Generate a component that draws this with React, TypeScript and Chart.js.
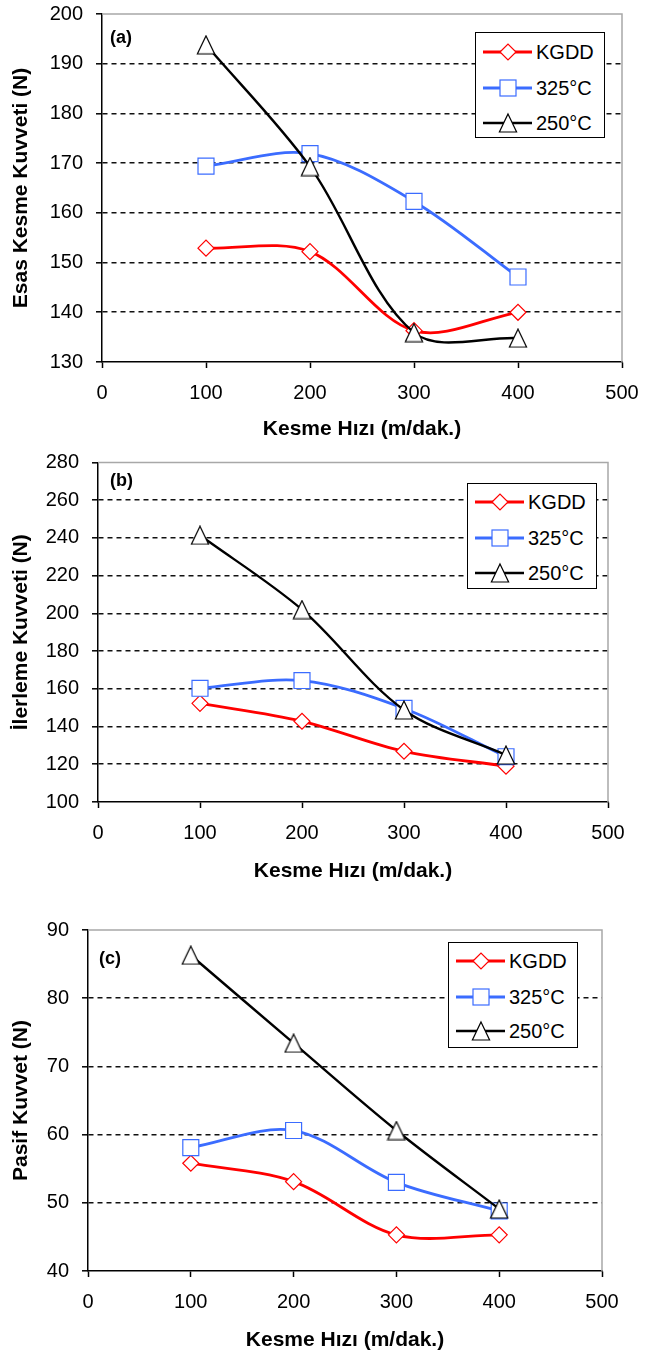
import React, { useEffect, useRef } from "react";
import { Chart, registerables } from "chart.js";

Chart.register(...registerables);

// ---------- data ----------
const speeds = [100, 200, 300, 400];
const seriesNames = ["KGDD", "325°C", "250°C"];
const xTicks = [0, 100, 200, 300, 400, 500];
const xTitle = "Kesme Hızı (m/dak.)";

const esasTitle = "Esas Kesme Kuvveti (N)";
const esasTicks = [130, 140, 150, 160, 170, 180, 190, 200];
const esasKGDD = [152.9, 152.2, 136.3, 140.0];
const esas325 = [169.4, 171.9, 162.3, 147.1];
const esas250 = [193.8, 169.3, 135.9, 134.8];

const ilerTitle = "İlerleme Kuvveti (N)";
const ilerTicks = [100, 120, 140, 160, 180, 200, 220, 240, 260, 280];
const ilerKGDD = [152.3, 142.8, 126.9, 119.0];
const iler325 = [160.3, 164.4, 149.6, 124.0];
const iler250 = [241.4, 202.0, 148.8, 124.9];

const pasifTitle = "Pasif Kuvvet (N)";
const pasifTicks = [40, 50, 60, 70, 80, 90];
const pasifKGDD = [55.8, 53.1, 45.3, 45.3];
const pasif325 = [58.1, 60.6, 53.0, 48.8];
const pasif250 = [86.3, 73.4, 60.6, 49.1];

// ---------- styles ----------
const FONT = "'Liberation Sans', Arial, sans-serif";
const colors = ["#ff0000", "#3b6cff", "#000000"];
const lineWidths = [2.8, 2.8, 2.4];
const pointRadii = [8, 11.3, 10];

function makeTriangle(): HTMLCanvasElement {
  const c = document.createElement("canvas");
  c.width = 20;
  c.height = 20;
  const g = c.getContext("2d")!;
  g.fillStyle = "#fff";
  g.strokeStyle = "#000";
  g.lineWidth = 1.2;
  g.beginPath();
  g.moveTo(10, 1);
  g.lineTo(18.6, 19);
  g.lineTo(1.4, 19);
  g.closePath();
  g.fill();
  g.stroke();
  return c;
}

const framePlugin = {
  id: "frame",
  beforeDatasetsDraw(chart: any) {
    const { ctx, chartArea: a } = chart;
    ctx.save();
    ctx.strokeStyle = "#a8a8a8";
    ctx.lineWidth = 1.5;
    ctx.beginPath();
    ctx.moveTo(a.left, a.top);
    ctx.lineTo(a.right, a.top);
    ctx.lineTo(a.right, a.bottom);
    ctx.stroke();
    ctx.restore();
  },
};

type Cfg = {
  top: number;
  height: number;
  padTop: number;
  padRight: number;
  yWidth: number;
  xHeight: number;
  xTitlePad: number;
  yTitle: string;
  yTicks: number[];
  series: number[][];
};

function ForceChart({ cfg }: { cfg: Cfg }) {
  const ref = useRef<HTMLCanvasElement>(null);
  useEffect(() => {
    const canvas = ref.current!;
    const yMin = cfg.yTicks[0];
    const yMax = cfg.yTicks[cfg.yTicks.length - 1];
    const styles: any[] = ["rectRot", "rect", makeTriangle()];
    const chart = new Chart(canvas, {
      type: "line",
      data: {
        datasets: seriesNames.map((name, i) => ({
          label: name,
          data: speeds.map((x, j) => ({ x, y: cfg.series[i][j] })),
          borderColor: colors[i],
          borderWidth: lineWidths[i],
          pointStyle: styles[i],
          pointRadius: pointRadii[i],
          pointBackgroundColor: "#ffffff",
          pointBorderColor: colors[i],
          pointBorderWidth: 1.2,
          tension: 0.33,
          fill: false,
          order: 3 - i,
        })),
      },
      options: {
        responsive: false,
        maintainAspectRatio: false,
        animation: false,
        events: [],
        layout: { padding: { left: 0, top: cfg.padTop, right: cfg.padRight, bottom: 0 } },
        plugins: { legend: { display: false }, tooltip: { enabled: false } },
        scales: {
          x: {
            type: "linear",
            min: 0,
            max: 500,
            afterBuildTicks: (s: any) => {
              s.ticks = xTicks.map((v) => ({ value: v }));
            },
            afterFit: (s: any) => {
              s.height = cfg.xHeight;
              s.paddingLeft = 0;
              s.paddingRight = 0;
            },
            grid: {
              drawOnChartArea: false,
              drawTicks: true,
              tickLength: 6,
              tickColor: "#000",
              tickWidth: 1.5,
            },
            border: { color: "#000", width: 1.5 },
            ticks: {
              color: "#000",
              font: { family: FONT, size: 20 },
              padding: 13,
              maxRotation: 0,
              autoSkip: false,
            },
            title: {
              display: true,
              text: xTitle,
              color: "#000",
              font: { family: FONT, size: 21, weight: "bold" },
              padding: { top: 0, bottom: cfg.xTitlePad },
            },
          },
          y: {
            type: "linear",
            min: yMin,
            max: yMax,
            afterBuildTicks: (s: any) => {
              s.ticks = cfg.yTicks.map((v) => ({ value: v }));
            },
            afterFit: (s: any) => {
              s.width = cfg.yWidth;
              s.paddingTop = 0;
              s.paddingBottom = 0;
            },
            grid: {
              drawOnChartArea: true,
              drawTicks: true,
              tickLength: 6,
              tickColor: "#000",
              tickWidth: 1.5,
              tickBorderDash: [],
              lineWidth: 1.6,
              color: (c: any) =>
                c.tick && (c.tick.value === yMin || c.tick.value === yMax)
                  ? "rgba(0,0,0,0)"
                  : "#111",
            },
            border: { color: "#000", width: 1.5, dash: [5, 4] },
            ticks: {
              color: "#000",
              font: { family: FONT, size: 20 },
              padding: 13,
              autoSkip: false,
            },
            title: {
              display: true,
              text: cfg.yTitle,
              color: "#000",
              font: { family: FONT, size: 21, weight: "bold" },
              padding: { top: 9, bottom: 0 },
            },
          },
        },
      } as any,
      plugins: [framePlugin],
    });
    return () => chart.destroy();
  }, []);
  return (
    <canvas
      ref={ref}
      width={646}
      height={cfg.height}
      style={{ position: "absolute", left: 0, top: cfg.top, width: 646, height: cfg.height }}
    />
  );
}

function Marker({ i, cx, cy }: { i: number; cx: number; cy: number }) {
  const c = colors[i];
  if (i === 0) {
    return (
      <polygon
        points={`${cx - 8},${cy} ${cx},${cy - 8} ${cx + 8},${cy} ${cx},${cy + 8}`}
        fill="#fff"
        stroke={c}
        strokeWidth={1.2}
      />
    );
  }
  if (i === 1) {
    return <rect x={cx - 8} y={cy - 8} width={16} height={16} fill="#fff" stroke={c} strokeWidth={1.2} />;
  }
  return (
    <polygon
      points={`${cx},${cy - 9} ${cx + 8.6},${cy + 9} ${cx - 8.6},${cy + 9}`}
      fill="#fff"
      stroke={c}
      strokeWidth={1.2}
    />
  );
}

function Legend({ left, top, rows }: { left: number; top: number; rows: number[] }) {
  return (
    <div
      style={{
        position: "absolute",
        left,
        top,
        width: 130,
        height: 106,
        boxSizing: "border-box",
        border: "1.5px solid #000",
        background: "#fff",
      }}
    >
      {seriesNames.map((n, i) => (
        <div key={n} style={{ position: "absolute", left: 0, top: rows[i] - 13.5, height: 24, width: 128 }}>
          <svg width={52} height={24} style={{ position: "absolute", left: 6.5, top: 0 }}>
            <line x1={0} y1={12} x2={49} y2={12} stroke={colors[i]} strokeWidth={lineWidths[i]} />
            <Marker i={i} cx={25} cy={12} />
          </svg>
          <span
            style={{
              position: "absolute",
              left: 60,
              top: 0,
              lineHeight: "24px",
              fontFamily: FONT,
              fontSize: 20,
              color: "#000",
              whiteSpace: "nowrap",
            }}
          >
            {n}
          </span>
        </div>
      ))}
    </div>
  );
}

function PanelLabel({ left, top, text }: { left: number; top: number; text: string }) {
  return (
    <div
      style={{
        position: "absolute",
        left,
        top,
        fontFamily: FONT,
        fontWeight: "bold",
        fontSize: 18,
        lineHeight: "20px",
        color: "#000",
      }}
    >
      {text}
    </div>
  );
}

const cfgA: Cfg = {
  top: 0,
  height: 450,
  padTop: 14,
  padRight: 24,
  yWidth: 102,
  xHeight: 88,
  xTitlePad: 8,
  yTitle: esasTitle,
  yTicks: esasTicks,
  series: [esasKGDD, esas325, esas250],
};
const cfgB: Cfg = {
  top: 450,
  height: 440,
  padTop: 12,
  padRight: 38,
  yWidth: 98,
  xHeight: 88,
  xTitlePad: 6,
  yTitle: ilerTitle,
  yTicks: ilerTicks,
  series: [ilerKGDD, iler325, iler250],
};
const cfgC: Cfg = {
  top: 890,
  height: 466,
  padTop: 40,
  padRight: 44,
  yWidth: 88,
  xHeight: 85,
  xTitlePad: 3,
  yTitle: pasifTitle,
  yTicks: pasifTicks,
  series: [pasifKGDD, pasif325, pasif250],
};

export default function App() {
  return (
    <div style={{ position: "absolute", left: 0, top: 0, width: 646, height: 1356, background: "#fff" }}>
      <ForceChart cfg={cfgA} />
      <ForceChart cfg={cfgB} />
      <ForceChart cfg={cfgC} />
      <Legend left={475} top={32} rows={[20, 56, 91]} />
      <Legend left={467} top={483} rows={[19, 55, 90]} />
      <Legend left={448} top={942} rows={[19, 55, 89]} />
      <PanelLabel left={110} top={27} text="(a)" />
      <PanelLabel left={110} top={470} text="(b)" />
      <PanelLabel left={99} top={948} text="(c)" />
    </div>
  );
}
